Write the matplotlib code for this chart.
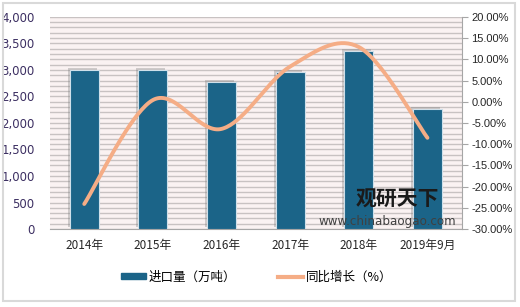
import matplotlib
matplotlib.use('Agg')
import matplotlib.pyplot as plt
import matplotlib.patheffects as pe
from matplotlib.patches import Rectangle
import numpy as np

plt.rcParams['font.family'] = ['Noto Sans CJK SC', 'DejaVu Sans']

# data
categories = ['2014年', '2015年', '2016年', '2017年', '2018年', '2019年9月']
imports = [3000, 2995, 2780, 2965, 3360, 2265]          # 进口量（万吨）
growth = [-24.1, 0.4, -6.4, 8.3, 12.9, -8.5]            # 同比增长（%）
left_ticks = list(range(0, 4001, 500))
right_ticks = list(range(-30, 21, 5))


def smooth_curve(xs, ys, steps=40):
    # Excel-like smoothed line: cubic bezier with catmull-rom control points
    pts = np.column_stack([xs, ys]).astype(float)
    n = len(pts)
    out = []
    for i in range(n - 1):
        p0 = pts[i - 1] if i > 0 else pts[i]
        p1 = pts[i]
        p2 = pts[i + 1]
        p3 = pts[i + 2] if i + 2 < n else pts[i + 1]
        c1 = p1 + (p2 - p0) / 6
        c2 = p2 - (p3 - p1) / 6
        t = np.linspace(0, 1, steps)[:, None]
        seg = ((1 - t) ** 3) * p1 + 3 * ((1 - t) ** 2) * t * c1 + 3 * (1 - t) * t ** 2 * c2 + t ** 3 * p2
        out.append(seg if i == 0 else seg[1:])
    out = np.vstack(out)
    return out[:, 0], out[:, 1]


fig = plt.figure(figsize=(5.2, 3.07), dpi=100)
fig.patch.set_facecolor('white')
fig.patches.append(Rectangle((0.006, 0.02), 0.984, 0.97, transform=fig.transFigure,
                             fill=False, edgecolor='#d9d9d9', linewidth=1.5))

ax = fig.add_axes([0.096, 0.254, 0.792, 0.691])
ax.set_facecolor('#faf2f2')

x = np.arange(len(categories))
bars = ax.bar(x, imports, width=0.42, color='#1b6488', edgecolor='#cfe0ea',
              linewidth=0.8, zorder=3)
for b in bars:
    b.set_path_effects([pe.SimplePatchShadow(offset=(-1.5, 1.5), shadow_rgbFace='#808080', alpha=0.35),
                        pe.Normal()])

ax.set_xlim(-0.5, len(categories) - 0.5)
ax.set_ylim(0, 4000)
ax.set_yticks(left_ticks)
ax.set_yticklabels([f'{v:,}' for v in left_ticks], color='#3c2f62', fontsize=8.5,
                   family=['DejaVu Sans'])
ax.set_yticks(range(0, 4001, 100), minor=True)
ax.grid(True, axis='y', which='both', color='#c8c2c2', linewidth=1.0, zorder=0)
ax.tick_params(axis='y', which='both', length=0, pad=11)
ax.set_xticks(x)
ax.set_xticklabels(categories, fontsize=8.5, color='#262626')
ax.tick_params(axis='x', length=0, pad=7)
for s in ['left', 'top', 'right']:
    ax.spines[s].set_visible(False)
ax.spines['bottom'].set_color('#a6a6a6')

ax2 = ax.twinx()
ax2.set_ylim(-30, 20)
ax2.set_yticks(right_ticks)
ax2.set_yticklabels([f'{v:.2f}%' for v in right_ticks], fontsize=8, color='#262626',
                    family=['Liberation Sans'])
ax2.tick_params(axis='y', length=4, color='#a6a6a6', pad=3)
for s in ['left', 'top', 'bottom']:
    ax2.spines[s].set_visible(False)
ax2.spines['right'].set_color('#a6a6a6')
sx, sy = smooth_curve(x, growth)
ax2.plot(sx, sy, color='#f5ad86', linewidth=2.8, solid_capstyle='round', zorder=4)

# watermark
fig.text(0.683, 0.33, '观研天下', fontsize=15, fontweight='bold', color='#1a1a1a', zorder=10)
fig.text(0.612, 0.268, 'www.chinabaogao.com', fontsize=8.6, color='#404040', zorder=10,
         family=['DejaVu Sans'])

# legend
h1 = Rectangle((0, 0), 1, 1, color='#1b6488')
h2 = plt.Line2D([0], [0], color='#f5ad86', linewidth=3)
fig.legend([h1, h2], ['进口量（万吨）', '同比增长（%）'], loc='center', bbox_to_anchor=(0.493, 0.098),
           ncol=2, frameon=False, fontsize=9, handlelength=2.0, handleheight=0.35,
           columnspacing=3.4, handletextpad=0.2)

fig.savefig('out.png', dpi=100)
